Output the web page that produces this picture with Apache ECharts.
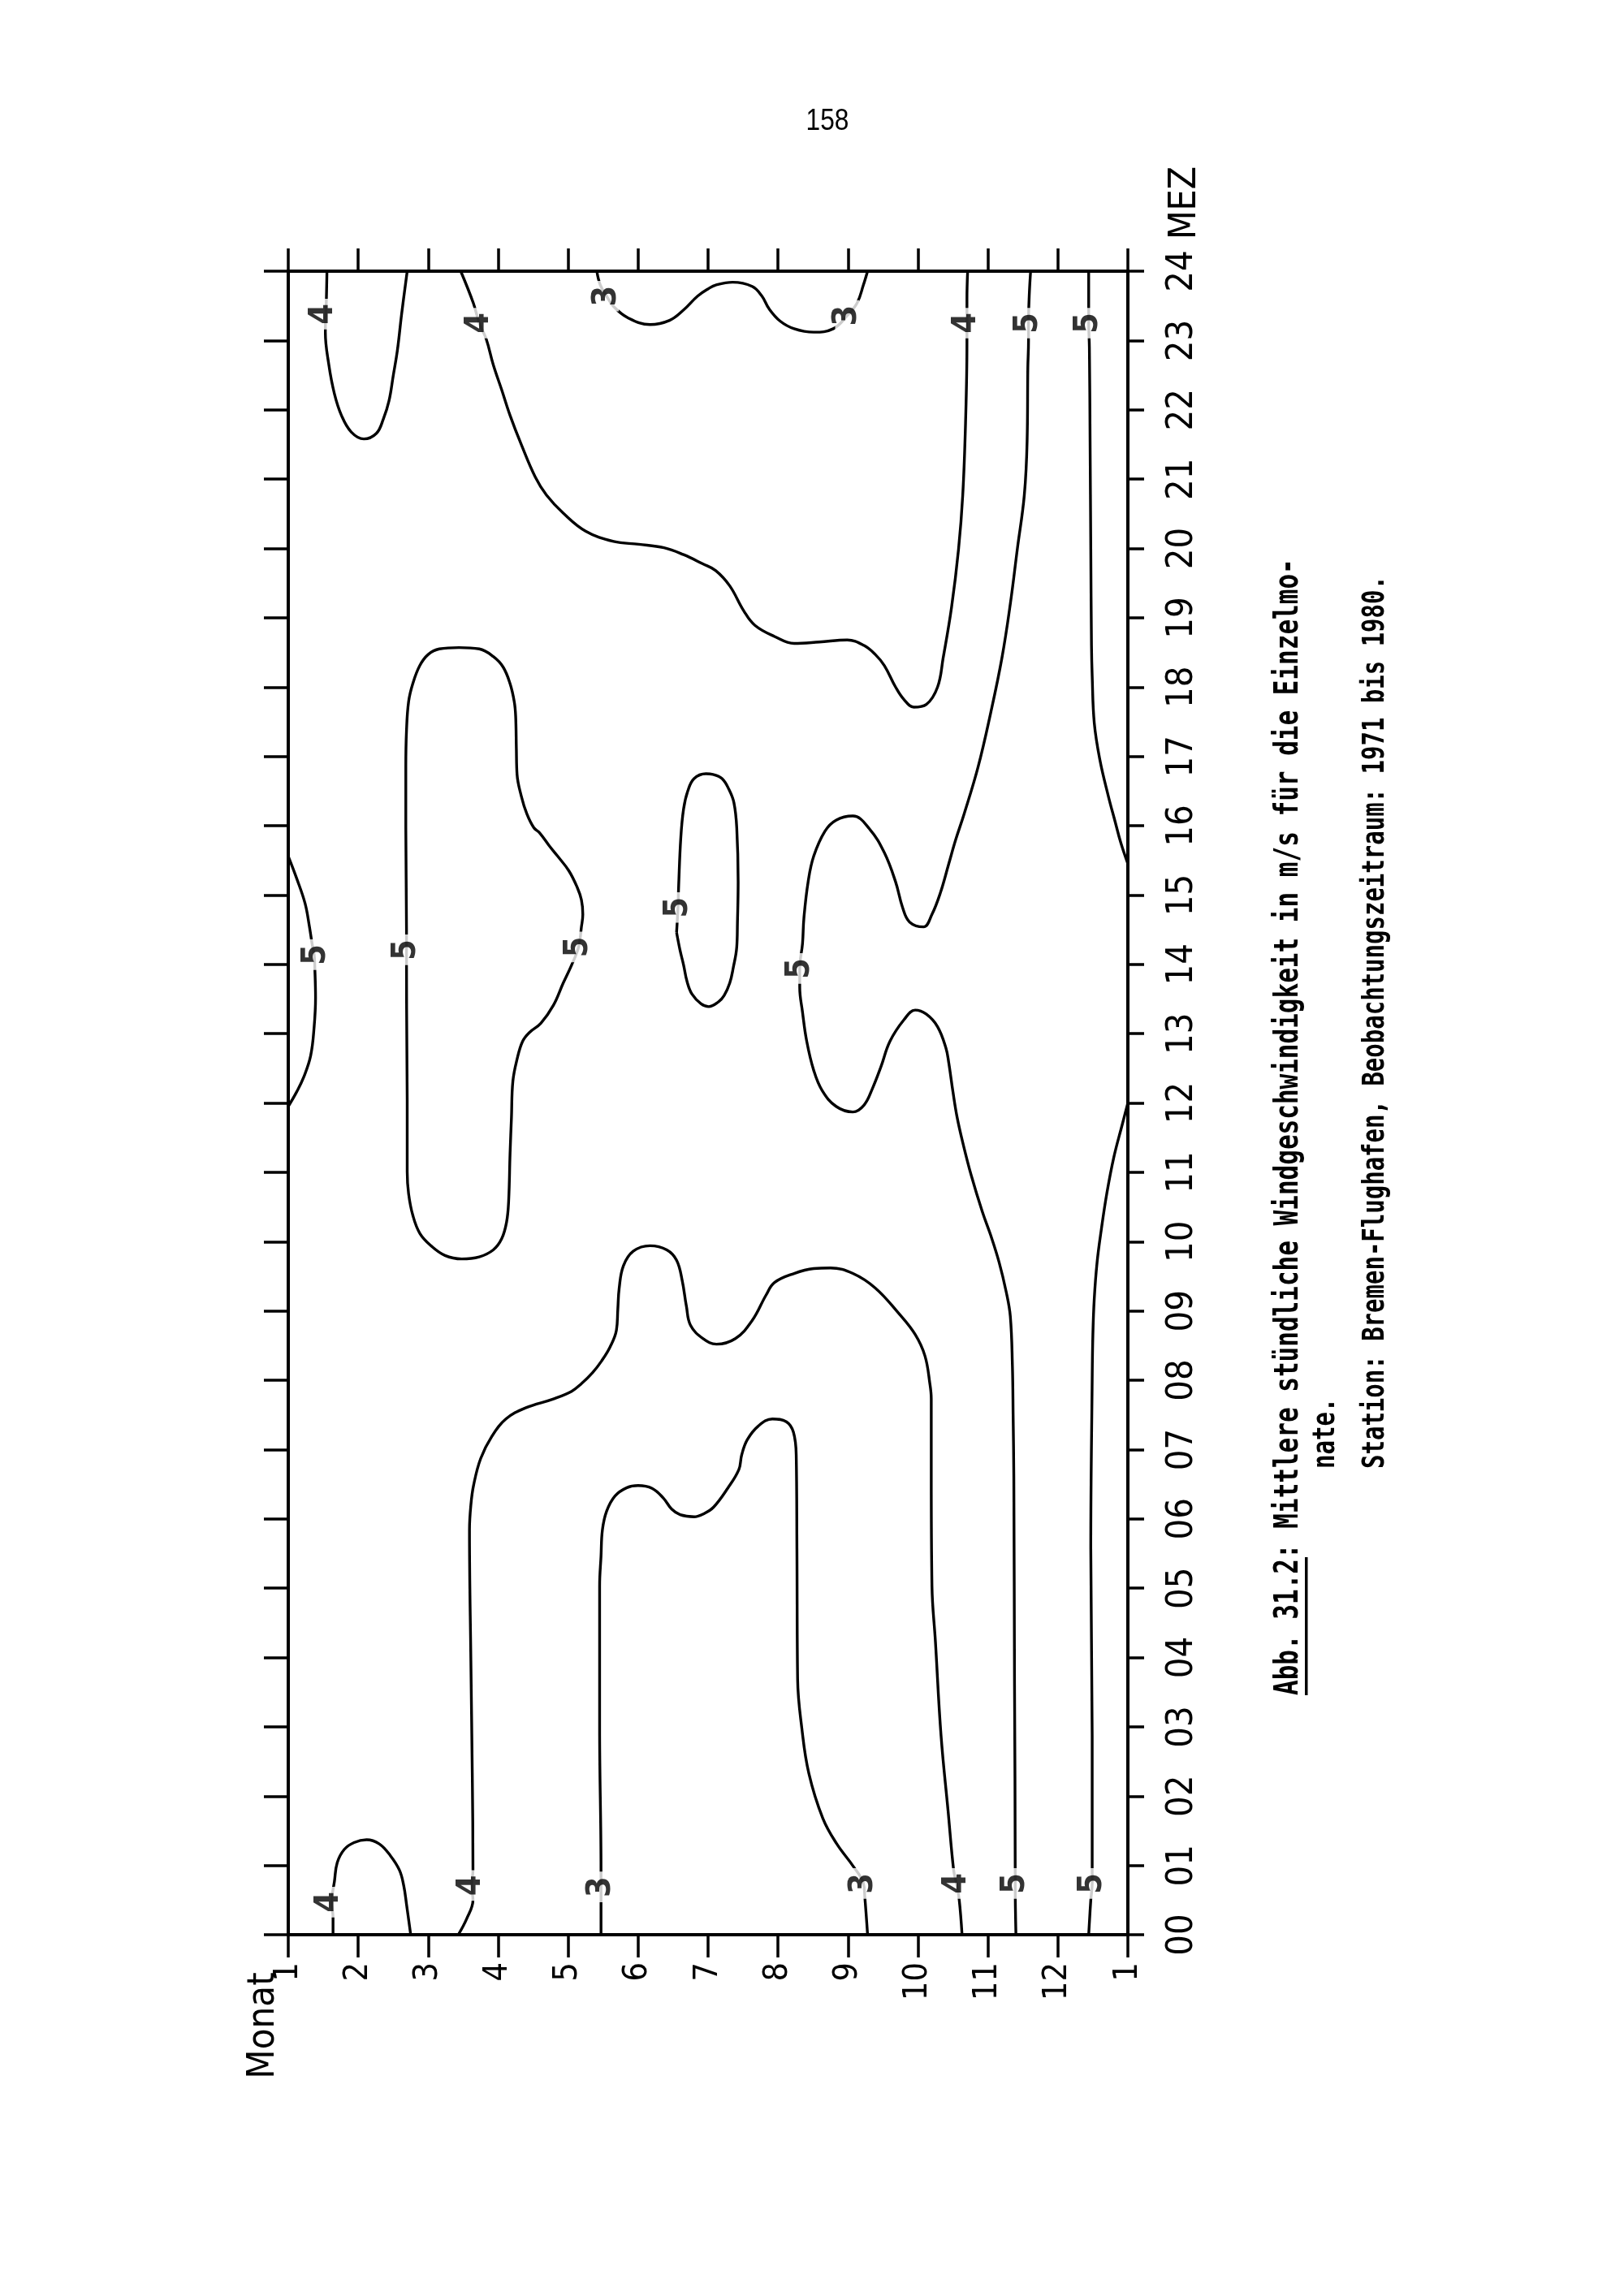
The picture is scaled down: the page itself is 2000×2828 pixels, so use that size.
<!DOCTYPE html>
<html><head><meta charset="utf-8">
<script src="https://cdn.jsdelivr.net/npm/echarts@6/dist/echarts.min.js"></script>
<style>html,body{margin:0;padding:0;background:#fff;}#chart{width:2000px;height:2828px;}</style>
</head><body><div id="chart"></div>
<script>
// Axis tick labels
const monthLabels = ['1','2','3','4','5','6','7','8','9','10','11','12','1'];
const hourLabels = ['00','01','02','03','04','05','06','07','08','09','10','11','12','13','14','15','16','17','18','19','20','21','22','23','24'];

// Isolines [month, hour]
const iso4A = [[1.553,24],[1.545,23.6],[1.53,23.12],[1.58,22.65],[1.66,22.23],[1.76,21.92],[1.90,21.68],[2.08,21.58],[2.26,21.66],[2.36,21.87],[2.44,22.13],[2.50,22.49],[2.56,22.86],[2.62,23.38],[2.70,24]];
const iso4B = [[3.465,24],[3.645,23.54],[3.73,23.25],[3.83,23.02],[3.93,22.65],[4.05,22.29],[4.17,21.92],[4.33,21.50],[4.53,21.03],[4.69,20.77],[4.93,20.51],[5.25,20.25],[5.65,20.10],[6.01,20.06],[6.37,20.01],[6.65,19.91],[6.92,19.78],[7.11,19.68],[7.31,19.46],[7.51,19.10],[7.67,18.89],[7.95,18.73],[8.23,18.63],[8.59,18.65],[8.99,18.68],[9.23,18.60],[9.39,18.47],[9.52,18.31],[9.68,18.0],[9.80,17.82],[9.94,17.71],[10.12,17.75],[10.28,18.0],[10.36,18.42],[10.48,19.15],[10.58,19.99],[10.64,20.77],[10.68,21.81],[10.70,22.96],[10.70,23.6],[10.71,24]];
const iso3C = [[5.41,24],[5.46,23.8],[5.55,23.64],[5.65,23.49],[5.85,23.33],[6.17,23.23],[6.45,23.29],[6.65,23.44],[6.85,23.64],[7.01,23.75],[7.11,23.80],[7.35,23.84],[7.63,23.78],[7.77,23.64],[7.87,23.46],[8.03,23.28],[8.23,23.17],[8.51,23.12],[8.79,23.17],[8.99,23.36],[9.13,23.54],[9.22,23.8],[9.28,24]];
const iso5D = [[11.61,24],[11.59,23.64],[11.58,23.25],[11.58,22.99],[11.57,22.60],[11.56,21.55],[11.52,20.77],[11.42,19.99],[11.32,19.20],[11.20,18.42],[11.04,17.63],[10.86,16.85],[10.66,16.17],[10.54,15.80],[10.44,15.45],[10.32,15.03],[10.20,14.72],[10.08,14.54],[9.88,14.61],[9.78,14.82],[9.68,15.19],[9.52,15.61],[9.31,15.95],[9.07,16.14],[8.83,16.08],[8.67,15.92],[8.51,15.56],[8.43,15.19],[8.37,14.67],[8.35,14.30],[8.31,13.94],[8.31,13.67],[8.35,13.31],[8.41,12.89],[8.51,12.47],[8.63,12.18],[8.83,11.95],[9.07,11.87],[9.23,11.97],[9.35,12.21],[9.47,12.52],[9.60,12.89],[9.80,13.20],[9.96,13.34],[10.12,13.28],[10.28,13.10],[10.40,12.79],[10.44,12.58],[10.50,12.16],[10.56,11.79],[10.64,11.43],[10.76,10.96],[10.92,10.43],[11.04,10.09],[11.16,9.70],[11.26,9.28],[11.32,8.92],[11.35,8.2],[11.36,7.5],[11.37,6.6],[11.38,3.6],[11.39,0.93],[11.39,0.74],[11.40,0]];
const iso5E = [[12.44,24],[12.44,23.6],[12.44,23.25],[12.45,22.9],[12.46,21.55],[12.47,20.0],[12.48,18.6],[12.49,18.16],[12.52,17.48],[12.60,16.95],[12.72,16.43],[12.82,16.05],[12.90,15.75],[13.0,15.45]];
const iso5F = [[13.0,12.0],[12.92,11.69],[12.80,11.22],[12.70,10.70],[12.62,10.17],[12.56,9.70],[12.52,9.18],[12.50,8.66],[12.49,8.0],[12.47,5.57],[12.49,2.87],[12.49,0.93],[12.49,0.74],[12.47,0.5],[12.44,0]];
const iso4G = [[3.43,0],[3.55,0.23],[3.64,0.50],[3.62,0.71],[3.64,0.93],[3.63,2.33],[3.61,3.95],[3.59,5.84],[3.61,6.2],[3.65,6.49],[3.75,6.87],[3.91,7.19],[4.11,7.44],[4.39,7.60],[4.79,7.73],[5.05,7.84],[5.19,7.95],[5.35,8.11],[5.48,8.28],[5.60,8.48],[5.69,8.72],[5.71,9.02],[5.73,9.33],[5.79,9.65],[5.93,9.86],[6.17,9.94],[6.41,9.88],[6.55,9.73],[6.63,9.44],[6.69,9.07],[6.75,8.79],[6.93,8.60],[7.12,8.52],[7.39,8.60],[7.63,8.86],[7.83,9.23],[7.95,9.41],[8.23,9.54],[8.51,9.61],[8.75,9.62],[9.07,9.54],[9.39,9.33],[9.72,8.97],[9.96,8.66],[10.10,8.35],[10.17,7.95],[10.19,7.73],[10.19,6.65],[10.20,5.03],[10.25,4.22],[10.33,2.87],[10.43,1.79],[10.51,0.93],[10.55,0.74],[10.59,0.50],[10.63,0]];
const iso3H = [[5.47,0],[5.47,0.69],[5.47,0.93],[5.45,3.0],[5.45,5.03],[5.47,5.46],[5.49,5.84],[5.55,6.11],[5.67,6.33],[5.84,6.45],[6.00,6.48],[6.20,6.44],[6.36,6.30],[6.48,6.14],[6.60,6.06],[6.80,6.03],[6.95,6.08],[7.08,6.17],[7.28,6.44],[7.44,6.71],[7.48,6.92],[7.56,7.14],[7.72,7.34],[7.92,7.44],[8.12,7.40],[8.22,7.25],[8.26,6.92],[8.27,5.57],[8.28,3.68],[8.34,2.98],[8.44,2.33],[8.64,1.68],[8.84,1.31],[9.08,0.98],[9.22,0.74],[9.24,0.55],[9.28,0]];
const iso4I = [[1.64,0],[1.64,0.25],[1.62,0.47],[1.66,0.77],[1.70,1.04],[1.80,1.23],[1.94,1.33],[2.12,1.37],[2.30,1.31],[2.46,1.14],[2.59,0.93],[2.65,0.71],[2.69,0.44],[2.75,0]];
const iso5J = [[1.0,15.56],[1.12,15.24],[1.24,14.88],[1.30,14.56],[1.34,14.30],[1.37,14.14],[1.38,13.94],[1.39,13.52],[1.37,13.10],[1.32,12.68],[1.22,12.37],[1.12,12.16],[1.0,11.95]];
const iso5K = [[2.70,12.05],[2.69,13.99],[2.69,14.21],[2.69,14.51],[2.68,15.97],[2.68,16.85],[2.69,17.37],[2.72,17.79],[2.78,18.05],[2.88,18.31],[3.00,18.47],[3.16,18.55],[3.44,18.57],[3.73,18.55],[3.93,18.44],[4.07,18.29],[4.17,18.05],[4.23,17.79],[4.25,17.58],[4.26,17.11],[4.27,16.74],[4.33,16.43],[4.41,16.17],[4.51,15.97],[4.59,15.90],[4.73,15.71],[4.85,15.56],[5.01,15.35],[5.13,15.11],[5.19,14.93],[5.21,14.72],[5.19,14.54],[5.15,14.25],[5.05,13.99],[4.93,13.73],[4.79,13.41],[4.61,13.15],[4.45,13.02],[4.35,12.89],[4.27,12.63],[4.21,12.31],[4.19,11.79],[4.17,11.27],[4.15,10.59],[4.12,10.28],[4.05,10.04],[3.93,9.88],[3.73,9.78],[3.48,9.75],[3.24,9.80],[3.04,9.94],[2.88,10.12],[2.78,10.38],[2.72,10.69],[2.70,11.01],[2.70,12.05]];
const iso5L = [[6.55,14.46],[6.57,14.82],[6.58,15.14],[6.61,15.82],[6.65,16.24],[6.71,16.5],[6.80,16.68],[6.97,16.75],[7.07,16.74],[7.20,16.68],[7.30,16.52],[7.37,16.33],[7.41,15.97],[7.43,15.19],[7.42,14.6],[7.41,14.25],[7.36,13.95],[7.31,13.73],[7.23,13.55],[7.15,13.46],[7.01,13.39],[6.90,13.43],[6.77,13.57],[6.70,13.75],[6.65,13.99],[6.60,14.2],[6.55,14.46]];

// Isoline value labels [month, hour]
const labels3 = [[5.55,23.64],[8.99,23.36],[5.47,0.69],[9.22,0.74]];
const labels4 = [[1.50,23.38],[3.73,23.25],[10.69,23.25],[1.59,0.47],[3.62,0.71],[10.55,0.74]];
const labels5 = [[11.58,23.25],[12.44,23.25],[1.40,14.14],[2.685,14.21],[5.15,14.25],[6.57,14.82],[8.31,13.94],[11.39,0.74],[12.49,0.74]];

const INK = '#000';
const FONT = '"DejaVu Sans Condensed", "DejaVu Sans", sans-serif';
const MONO = '"DejaVu Sans Mono", monospace';
const lines = [iso4A, iso4B, iso3C, iso5D, iso5E, iso5F, iso4G, iso3H, iso4I, iso5J, iso5K, iso5L];
const series = lines.map(d => ({
  type: 'line', data: d, smooth: 0.4, symbol: 'none', z: 2, silent: true,
  lineStyle: { color: INK, width: 3.4 }
}));
[['3', labels3], ['4', labels4], ['5', labels5]].forEach(([txt, arr]) => {
  series.push({
    type: 'scatter', data: arr.map(p => [p[0], p[1], txt]), symbolSize: 1, z: 5, silent: true,
    itemStyle: { color: 'rgba(0,0,0,0)' },
    label: { show: true, position: 'inside', formatter: p => p.value[2], rotate: 90,
      fontSize: 41, fontWeight: 'bold', fontFamily: FONT, color: INK, backgroundColor: '#fff', padding: [0, 6], lineHeight: 30 }
  });
});

const axLine = { show: true, onZero: false, lineStyle: { color: INK, width: 4 } };
const chart = echarts.init(document.getElementById('chart'), null, { renderer: 'canvas' });
chart.setOption({
  animation: false,
  backgroundColor: '#fff',
  grid: { left: 355, right: 611, top: 334, bottom: 445, containLabel: false },
  xAxis: [
    { type: 'value', position: 'bottom', min: 1, max: 13, interval: 1,
      axisLine: axLine, splitLine: { show: false },
      axisTick: { show: true, inside: false, length: 28, lineStyle: { color: INK, width: 3.5 } },
      axisLabel: { show: true, rotate: 90, margin: 34, fontSize: 41, fontFamily: FONT, color: INK,
        formatter: v => monthLabels[Math.round(v) - 1] } },
    { type: 'value', position: 'top', min: 1, max: 13, interval: 1,
      axisLine: axLine, splitLine: { show: false },
      axisTick: { show: true, inside: false, length: 28, lineStyle: { color: INK, width: 3.5 } },
      axisLabel: { show: false } }
  ],
  yAxis: [
    { type: 'value', position: 'right', min: 0, max: 24, interval: 1,
      axisLine: axLine, splitLine: { show: false },
      axisTick: { show: true, inside: false, length: 20, lineStyle: { color: INK, width: 3.5 } },
      axisLabel: { show: true, rotate: 90, margin: 45, fontSize: 45, fontFamily: FONT, color: INK,
        formatter: v => hourLabels[Math.round(v)] } },
    { type: 'value', position: 'left', min: 0, max: 24, interval: 1,
      axisLine: axLine, splitLine: { show: false },
      axisTick: { show: true, inside: false, length: 30, lineStyle: { color: INK, width: 3.5 } },
      axisLabel: { show: false } }
  ],
  graphic: [
    { type: 'text', x: 1019, y: 150, scaleX: 0.88, style: { text: '158', font: '36px "Liberation Sans", sans-serif', fill: INK, textAlign: 'center', textVerticalAlign: 'middle' } },
    { type: 'text', x: 1460, y: 250, rotation: Math.PI / 2, style: { text: 'MEZ', font: '46px ' + FONT, fill: INK, textAlign: 'center', textVerticalAlign: 'middle' } },
    { type: 'text', x: 325, y: 2495, rotation: Math.PI / 2, style: { text: 'Monat', font: '47px ' + FONT, fill: INK, textAlign: 'center', textVerticalAlign: 'middle' } },
    { type: 'text', x: 1588, y: 2088, rotation: Math.PI / 2, scaleY: 1.3, style: { text: 'Abb. 31.2: Mittlere stündliche Windgeschwindigkeit in m/s für die Einzelmo-', font: 'bold 31px ' + MONO, fill: INK, textAlign: 'left', textVerticalAlign: 'middle' } },
    { type: 'rect', shape: { x: 1607, y: 1918, width: 3.5, height: 170 }, style: { fill: INK } },
    { type: 'text', x: 1633, y: 1809, rotation: Math.PI / 2, scaleY: 1.3, style: { text: 'nate.', font: 'bold 29px ' + MONO, fill: INK, textAlign: 'left', textVerticalAlign: 'middle' } },
    { type: 'text', x: 1694, y: 1809, rotation: Math.PI / 2, scaleY: 1.3, style: { text: 'Station: Bremen-Flughafen, Beobachtungszeitraum: 1971 bis 1980.', font: 'bold 29px ' + MONO, fill: INK, textAlign: 'left', textVerticalAlign: 'middle' } }
  ],
  series: series
});
</script></body></html>
